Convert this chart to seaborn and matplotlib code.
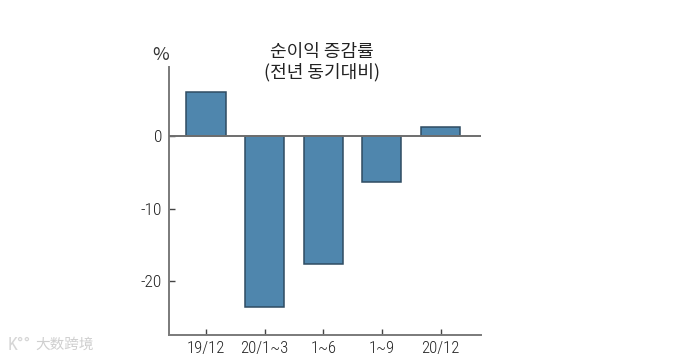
import matplotlib
matplotlib.use("Agg")
import matplotlib.pyplot as plt
import seaborn as sns

categories = ['19/12', '20/1~3', '1~6', '1~9', '20/12']
values = [6.1, -23.6, -17.7, -6.3, 1.3]
y_ticks = [0, -10, -20]
y_tick_labels = ['0', '-10', '-20']
title = '순이익 증감률\n(전년 동기대비)'

sns.set_theme(style='white')
plt.rcParams['font.family'] = ['Noto Sans CJK KR', 'DejaVu Sans']

W, H = 693, 359
fig = plt.figure(figsize=(W / 100, H / 100), dpi=100)
ax = fig.add_axes([169 / W, 1 - 335 / H, (481 - 169) / W, (335 - 67) / H])

sns.barplot(x=categories, y=values, color='#4f86ad', saturation=1, width=0.667,
            edgecolor='#2f4c62', linewidth=1.1, ax=ax)

ax.set_xlim(-0.63, 4.69)
ax.set_ylim(-27.5, 9.6)
ax.axhline(0, color='#6e6e6e', lw=1.4, zorder=3)

sns.despine(ax=ax)
for side in ['left', 'bottom']:
    ax.spines[side].set_color('#7a7a7a')
    ax.spines[side].set_linewidth(1.4)

narrow = ['Roboto Condensed', 'Archivo Narrow', 'PT Sans Narrow', 'Roboto', 'DejaVu Sans']
ax.set_yticks(y_ticks)
ax.set_yticklabels(y_tick_labels, family=narrow, fontsize=12.5, weight=300, color='#222222')
ax.set_xticks(range(len(categories)))
ax.set_xticklabels(categories, family=narrow, fontsize=12, weight=300, color='#222222')
ax.tick_params(axis='both', direction='in', length=4, width=1, color='#444444',
               left=True, bottom=True, pad=5)
ax.tick_params(axis='x', pad=4)

fig.text(322 / W, 1 - 62 / H, title, ha='center', va='center', fontsize=13,
         color='#222222', linespacing=1.15)
fig.text(161 / W, 1 - 55 / H, '%', ha='center', va='center', fontsize=13,
         color='#333333', weight='light')
fig.text(8 / W, 1 - 345 / H, 'K°°', ha='left', va='center', fontsize=13,
         color='#d6d6d6', family=narrow)
fig.text(35 / W, 1 - 345 / H, '大数跨境', ha='left', va='center', fontsize=10.5,
         color='#cfcfcf', family=['Noto Sans CJK SC', 'DejaVu Sans'])

fig.savefig('out.png', dpi=100, facecolor='white')
